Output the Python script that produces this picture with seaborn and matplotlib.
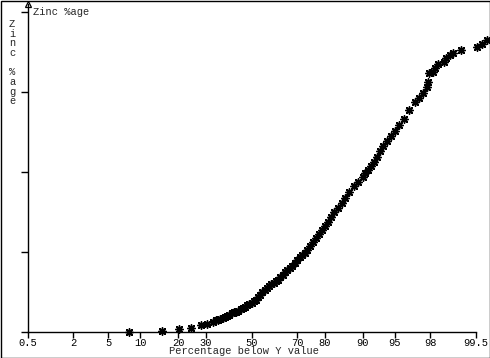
import math
import numpy as np
import pandas as pd
import matplotlib
matplotlib.use("Agg")
import matplotlib.pyplot as plt
from matplotlib.patches import Rectangle
import seaborn as sns

# ---- data (percentage below value, zinc %age) ----
pct = [8.0, 15.3, 20.1, 24.2, 27.9, 30.6,
       33, 34, 35, 36, 37, 38, 39, 40, 41, 42, 43, 44, 45, 46, 47, 48, 49, 50,
       51, 52, 53, 54, 55, 56, 57, 58, 59, 60, 61, 62, 63, 64, 65, 66, 67, 68,
       69, 70, 71, 72, 73, 74, 75, 76, 77, 78, 79, 80, 81, 82, 83, 84, 85, 86,
       87, 88, 89, 90, 90.5, 91, 91.5, 92, 92.5, 93, 93.5, 94, 94.5, 95, 95.5,
       96, 96.5, 97, 97.3, 97.6, 97.79, 97.85, 97.91, 98.13, 98.28, 98.38,
       98.64, 98.72, 98.89, 98.96, 99.19, 99.53, 99.60, 99.66]
zinc = [0.0, 0.01, 0.03, 0.05, 0.08, 0.10,
        0.12, 0.14, 0.15, 0.16, 0.17, 0.18, 0.19, 0.21, 0.23, 0.24, 0.25, 0.26,
        0.28, 0.30, 0.31, 0.33, 0.34, 0.36, 0.38, 0.40, 0.43, 0.46, 0.49, 0.52,
        0.54, 0.57, 0.59, 0.61, 0.63, 0.65, 0.68, 0.71, 0.74, 0.77, 0.79, 0.82,
        0.86, 0.89, 0.93, 0.96, 0.98, 1.02, 1.07, 1.12, 1.17, 1.22, 1.27, 1.32,
        1.37, 1.43, 1.49, 1.54, 1.61, 1.67, 1.74, 1.82, 1.87, 1.93, 1.98, 2.02,
        2.07, 2.12, 2.18, 2.26, 2.32, 2.38, 2.44, 2.51, 2.58, 2.66, 2.77, 2.87,
        2.92, 2.98, 3.06, 3.12, 3.23, 3.24, 3.29, 3.34, 3.37, 3.42, 3.46, 3.48,
        3.52, 3.56, 3.59, 3.64]
xticks = [0.5, 2, 5, 10, 20, 30, 50, 70, 80, 90, 95, 98, 99.5]
xtick_labels = ["0.5", "2", "5", "10", "20", "30", "50", "70", "80", "90", "95", "98", "99.5"]
yticks = [0, 1, 2, 3, 4]
title = "Zinc %age"
xlabel = "Percentage below Y value"
ylabel = "Z\ni\nn\nc\n\n%\na\ng\ne"

df = pd.DataFrame({"pct": pct, "zinc": zinc})

# ---- normal probability scale ----
_a = [-3.969683028665376e+01, 2.209460984245205e+02, -2.759285104469687e+02,
      1.383577518672690e+02, -3.066479806614716e+01, 2.506628277459239e+00]
_b = [-5.447609879822406e+01, 1.615858368580409e+02, -1.556989798598866e+02,
      6.680131188771972e+01, -1.328068155288572e+01]
_c = [-7.784894002430293e-03, -3.223964580411365e-01, -2.400758277161838e+00,
      -2.549732539343734e+00, 4.374664141464968e+00, 2.938163982698783e+00]
_d = [7.784695709041462e-03, 3.224671290700398e-01, 2.445134137142996e+00,
      3.754408661907416e+00]


def _ppf(p):
    p = np.clip(np.asarray(p, dtype=float), 1e-9, 1 - 1e-9)
    plow = 0.02425
    out = np.empty_like(p)
    lo = p < plow
    hi = p > 1 - plow
    mid = ~(lo | hi)
    q = np.sqrt(-2 * np.log(p[lo]))
    out[lo] = (((((_c[0]*q+_c[1])*q+_c[2])*q+_c[3])*q+_c[4])*q+_c[5]) / \
              ((((_d[0]*q+_d[1])*q+_d[2])*q+_d[3])*q+1)
    q = np.sqrt(-2 * np.log(1 - p[hi]))
    out[hi] = -(((((_c[0]*q+_c[1])*q+_c[2])*q+_c[3])*q+_c[4])*q+_c[5]) / \
               ((((_d[0]*q+_d[1])*q+_d[2])*q+_d[3])*q+1)
    q = p[mid] - 0.5
    r = q * q
    out[mid] = (((((_a[0]*r+_a[1])*r+_a[2])*r+_a[3])*r+_a[4])*r+_a[5])*q / \
               (((((_b[0]*r+_b[1])*r+_b[2])*r+_b[3])*r+_b[4])*r+1)
    return out


_erf = np.vectorize(math.erf)


def fwd(x):
    return _ppf(np.asarray(x, dtype=float) / 100.0)


def inv(z):
    z = np.asarray(z, dtype=float)
    return 50.0 * (1.0 + _erf(z / math.sqrt(2.0)))


# ---- figure ----
sns.set_style("white")
W, H = 490, 358
fig = plt.figure(figsize=(W / 100, H / 100), dpi=100)
FAM = ["Liberation Mono", "DejaVu Sans Mono"]
plt.rcParams["font.family"] = FAM
fs = 7.5

left_px, right_px, bottom_px, top_px = 27.5, 489, 331.5, 4
ax = fig.add_axes([left_px / W, 1 - bottom_px / H,
                   (right_px - left_px) / W, (bottom_px - top_px) / H])
ax.set_xscale("function", functions=(fwd, inv))

sns.scatterplot(data=df, x="pct", y="zinc", ax=ax, marker=(8, 2, 0), s=28,
                color="black", edgecolor="black", linewidth=1.1,
                clip_on=False, legend=False)

ax.set_xlim(0.5, 99.684)
ax.set_ylim(0, (bottom_px - top_px) / 80.0)

for s in ["top", "right"]:
    ax.spines[s].set_visible(False)
ax.spines["bottom"].set_bounds(0.5, 99.5)
for s in ["left", "bottom"]:
    ax.spines[s].set_color("black")
    ax.spines[s].set_linewidth(1.0)

ax.set_xticks(xticks)
ax.set_xticklabels(xtick_labels, fontsize=fs, family=FAM)
ax.xaxis.set_minor_locator(matplotlib.ticker.NullLocator())
ax.set_yticks(yticks)
ax.tick_params(axis="x", direction="out", length=4, width=1, pad=1.0,
               colors="black", bottom=True)
ax.tick_params(axis="y", direction="out", length=5, width=1, labelleft=False,
               colors="black", left=True)
ax.grid(False)

ax.set_xlabel(xlabel, fontsize=fs, family=FAM)
ax.xaxis.set_label_coords((244 - left_px) / (right_px - left_px),
                          (bottom_px - 351.5) / (bottom_px - top_px))
ax.xaxis.label.set_va("center")

ax.set_ylabel(ylabel, fontsize=fs, rotation=0, linespacing=0.96, family=FAM)
ax.yaxis.set_label_coords((12 - left_px) / (right_px - left_px),
                          (bottom_px - 19) / (bottom_px - top_px))
ax.yaxis.label.set_va("top")
ax.yaxis.label.set_ha("center")

ax.set_title(title, loc="left", fontsize=fs, pad=0,
             x=(33 - left_px) / (right_px - left_px),
             y=(bottom_px - 12) / (bottom_px - top_px), va="center",
             family=FAM)

# arrow head on top of y axis
ax.plot([0], [1.0], transform=ax.transAxes, marker="^", ms=5, mfc="white",
        mec="black", mew=0.9, clip_on=False)

# outer frame
fig.add_artist(Rectangle((0.5 / W, 0.5 / H), (W - 1) / W, (H - 1) / H,
                         transform=fig.transFigure, fill=False, lw=1,
                         ec="black"))

fig.savefig("out.png", dpi=100)
